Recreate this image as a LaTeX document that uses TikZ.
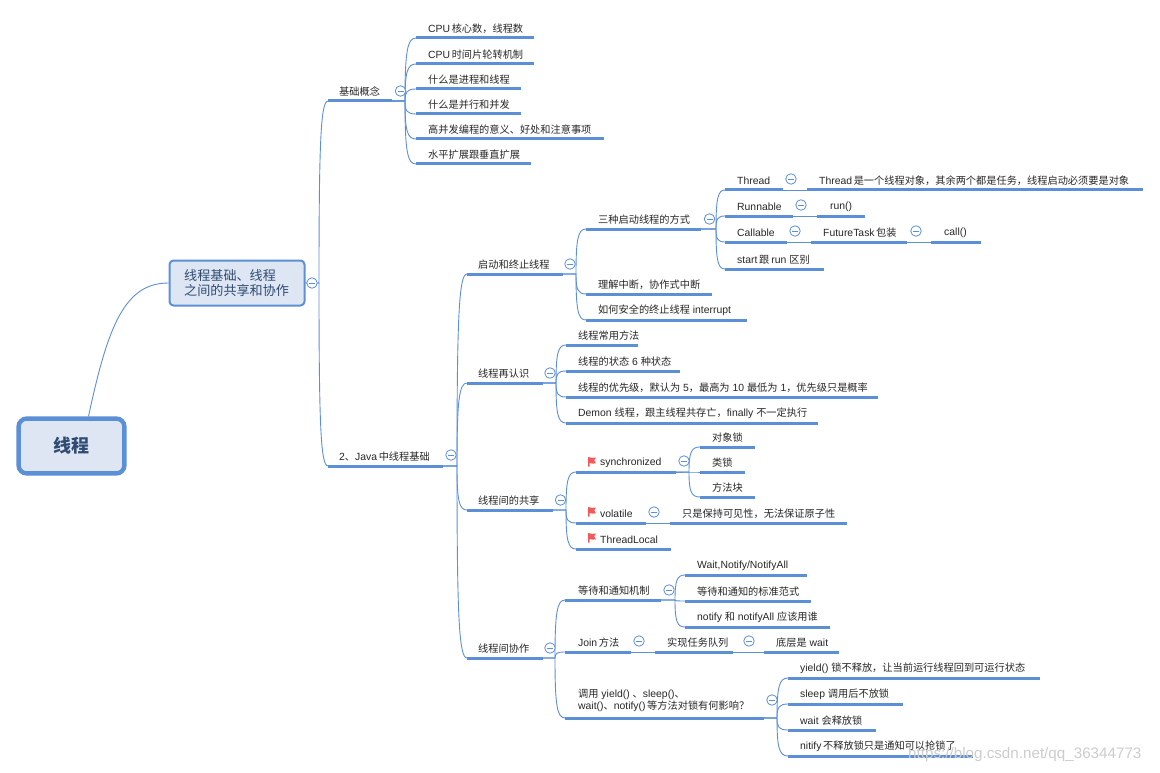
\documentclass[tikz,border=0pt]{standalone}
\usepackage{fontspec}
\setmainfont{Liberation Sans}
\newfontfamily\cjk{Noto Sans CJK SC}
\usetikzlibrary{calc}
\newcommand{\C}[1]{{\cjk\fontsize{10.2}{12}\selectfont #1}}
\newcommand{\gp}{\kern1.6pt\relax}
\newcommand{\fc}{{\cjk\fontsize{10.2}{12}\selectfont ^^^^ff0c}}
\definecolor{mapblue}{HTML}{5B8FD6}
\definecolor{mapfill}{HTML}{DDE6F2}
\definecolor{maptext}{HTML}{2F4B73}
\definecolor{flagred}{HTML}{F25A5A}
\tikzset{
  under/.style={draw=mapblue,line width=3pt,line cap=butt},
  thinl/.style={draw=mapblue,line width=0.9pt},
  lab/.style={anchor=west,inner sep=0pt,text=black!85,font=\fontsize{10.4}{12}\selectfont},
  ctl/.style={circle,draw=mapblue,fill=white,line width=0.8pt,minimum size=10.5pt,inner sep=0pt,
    path picture={\draw[mapblue,line width=0.8pt] ([xshift=-3pt]path picture bounding box.center) -- ([xshift=3pt]path picture bounding box.center);}},
  rootbox/.style={draw=mapblue,fill=mapfill,line width=4.4pt,rounded corners=8pt,inner sep=0pt},
  mainbox/.style={draw=mapblue,fill=mapfill,line width=2pt,rounded corners=4pt,inner sep=0pt},
}
% name, x1, x2, line y, text x, text
\newcommand{\topic}[6]{%
  \coordinate (#1-a) at (#2,#4);
  \coordinate (#1-b) at (#3,#4);
  \draw[under] (#1-a) -- (#1-b);
  \node[lab] (#1) at (#5,#4-9.3) {#6};
}
% parent, hub x, child
\newcommand{\branch}[3]{%
  \path (#1-b) -- (#1-b -| #2,0) coordinate[pos=1] (hubtmp);
  \draw[thinl] (#1-b) -- (hubtmp)
    .. controls ($(hubtmp)!0.78!(hubtmp |- #3-a)$) and ($(#3-a)!0.8!(hubtmp |- #3-a)$) .. (#3-a);
}
\newcommand{\link}[2]{\draw[thinl] (#1-b) -- (#2-a);}
\newcommand{\flagat}[2]{%
  \fill[flagred,shift={(#1,#2)}] (0,0) -- (4,0.8) -- (8,0.6) -- (6.2,3.2) -- (8,6.4) -- (4,6.6) -- (1.5,6) -- (1.5,9.5) -- (0,9.5) -- cycle;
}
\begin{document}
\begin{tikzpicture}[x=1pt,y=-1pt]
\useasboundingbox (0,0) rectangle (1160,773);
% root and main
\node[rootbox,minimum width=105.8pt,minimum height=54.8pt,text=maptext,font=\fontsize{18}{20}\selectfont] (root) at (71.5,446) {{\cjk\bfseries 线程}};
\node[mainbox,minimum width=135pt,minimum height=45pt] (main) at (237,283) {};
\node[anchor=west,inner sep=0pt,text=maptext,align=left,font=\fontsize{13.1}{14.5}\selectfont\cjk] (maintxt) at (184,283) {线程基础、线程\\之间的共享和协作};
\draw[thinl] ([xshift=17pt]root.north) .. controls (108,325) and (125,283) .. (main.west);

\coordinate (main-b) at (main.east);
% level 1
\topic{basic}{328}{392}{101}{339}{\C{基础概念}}
\topic{java}{328}{443}{466}{339}{2\C{、}Java\gp\C{中线程基础}}
\branch{main}{319}{basic}
\branch{main}{319}{java}
\node[ctl] (cmain) at (312,283) {};

% basic concepts
\topic{b1}{416}{534}{38}{428}{CPU\gp\C{核心数}\fc\C{线程数}}
\topic{b2}{416}{534}{64}{428}{CPU\gp\C{时间片轮转机制}}
\topic{b3}{416}{521}{89}{428}{\C{什么是进程和线程}}
\topic{b4}{416}{521}{114}{428}{\C{什么是并行和并发}}
\topic{b5}{416}{604}{139}{428}{\C{高并发编程的意义、好处和注意事项}}
\topic{b6}{416}{531}{164}{428}{\C{水平扩展跟垂直扩展}}
\foreach \c in {b1,b2,b3,b4,b5,b6}{\branch{basic}{405}{\c}}
\node[ctl] (cbasic) at (400.5,91) {};

% java
\topic{s1}{467}{563}{274}{478}{\C{启动和终止线程}}
\topic{s2}{467}{543}{383}{478}{\C{线程再认识}}
\topic{s3}{467}{553}{510}{478}{\C{线程间的共享}}
\topic{s4}{467}{543}{658}{478}{\C{线程间协作}}
\foreach \c in {s1,s2,s3,s4}{\branch{java}{457}{\c}}
\node[ctl] (cjava) at (451,455) {};

% start and stop
\topic{t1}{586}{701}{229}{598}{\C{三种启动线程的方式}}
\topic{t2}{586}{712}{294}{598}{\C{理解中断}\fc\C{协作式中断}}
\topic{t3}{586}{747}{320}{598}{\C{如何安全的终止线程} interrupt}
\foreach \c in {t1,t2,t3}{\branch{s1}{576}{\c}}
\node[ctl] (cs1) at (570,264) {};

\topic{u1}{725}{783}{190}{737}{Thread}
\topic{u1d}{807}{1143}{190}{819}{Thread\gp\C{是一个线程对象}\fc\C{其余两个都是任务}\fc\C{线程启动必须要是对象}}
\topic{u2}{725}{793}{216}{737}{Runnable}
\topic{u2d}{817}{865}{216}{830}{run()}
\topic{u3}{725}{787}{242}{737}{Callable}
\topic{u3d}{811}{907}{242}{823}{FutureTask\gp\C{包装}}
\topic{u3e}{931}{981}{242}{944}{call()}
\topic{u4}{725}{824}{269}{737}{start\gp\C{跟}\kern2.2pt run \C{区别}}
\foreach \c in {u1,u2,u3,u4}{\branch{t1}{716}{\c}}
\link{u1}{u1d}\link{u2}{u2d}\link{u3}{u3d}\link{u3d}{u3e}
\node[ctl] (ct1) at (709.5,219) {};
\node[ctl] (cu1) at (791,179) {};
\node[ctl] (cu2) at (801,205) {};
\node[ctl] (cu3) at (795,231) {};
\node[ctl] (cu3d) at (916,231) {};

% re-know
\topic{v1}{566}{638}{345}{578}{\C{线程常用方法}}
\topic{v2}{566}{680}{371}{578}{\C{线程的状态} 6 \C{种状态}}
\topic{v3}{566}{878}{397}{578}{\C{线程的优先级}\fc\C{默认为} 5\fc\C{最高为} 10 \C{最低为} 1\fc\C{优先级只是概率}}
\topic{v4}{566}{818}{423}{578}{Demon \C{线程}\fc\C{跟主线程共存亡}\fc finally \C{不一定执行}}
\foreach \c in {v1,v2,v3,v4}{\branch{s2}{556}{\c}}
\node[ctl] (cs2) at (550,373) {};

% share
\topic{w1}{576}{676}{472}{600}{synchronized}
\topic{w2}{576}{646}{523}{600}{volatile}
\topic{w2d}{670}{847}{523}{682}{\C{只是保持可见性}\fc\C{无法保证原子性}}
\topic{w3}{576}{671}{549}{600}{ThreadLocal}
\flagat{588}{457}\flagat{588}{507}\flagat{588}{533}
\foreach \c in {w1,w2,w3}{\branch{s3}{566}{\c}}
\link{w2}{w2d}
\node[ctl] (cs3) at (560.5,500) {};
\node[ctl] (cw2) at (654,512) {};
\topic{x1}{700}{755}{447}{712}{\C{对象锁}}
\topic{x2}{700}{745}{472}{712}{\C{类锁}}
\topic{x3}{700}{755}{497}{712}{\C{方法块}}
\foreach \c in {x1,x2,x3}{\branch{w1}{689}{\c}}
\node[ctl] (cw1) at (684,461) {};

% cooperate
\topic{y1}{565}{661}{600}{578}{\C{等待和通知机制}}
\topic{y2}{565}{631}{652}{578}{Join\gp\C{方法}}
\coordinate (y3-a) at (565,718);
\coordinate (y3-b) at (764,718);
\draw[under] (y3-a) -- (y3-b);
\node[lab,align=left,anchor=north west] (y3) at (578,688.5) {\C{调用} yield() \C{、}sleep()\C{、}\\wait()\C{、}notify()\gp\C{等方法对锁有何影响^^^^ff1f}};
\foreach \c in {y1,y2,y3}{\branch{s4}{555}{\c}}
\node[ctl] (cs4) at (550,648) {};

\topic{z1}{685}{807}{575}{697}{Wait,Notify/NotifyAll}
\topic{z2}{685}{811}{601}{697}{\C{等待和通知的标准范式}}
\topic{z3}{685}{830}{627}{697}{notify\kern2.8pt\C{和}\kern2.8pt notifyAll\kern2.8pt\C{应该用谁}}
\foreach \c in {z1,z2,z3}{\branch{y1}{675}{\c}}
\node[ctl] (cy1) at (669,590) {};

\topic{q1}{655}{733}{652}{667}{\C{实现任务队列}}
\topic{q2}{764}{839}{652}{776}{\C{底层是} wait}
\link{y2}{q1}\link{q1}{q2}
\node[ctl] (cy2) at (639,641) {};
\node[ctl] (cq1) at (749,641) {};

\topic{r1}{788}{1040}{678}{800}{yield() \C{锁不释放}\fc\C{让当前运行线程回到可运行状态}}
\topic{r2}{788}{903}{704}{800}{sleep \C{调用后不放锁}}
\topic{r3}{788}{876}{730}{800}{wait \C{会释放锁}}
\topic{r4}{788}{973}{756}{800}{nitify\gp\C{不释放锁只是通知可以抢锁了}}
\foreach \c in {r1,r2,r3,r4}{\branch{y3}{777}{\c}}
\node[ctl] (cy3) at (772,700) {};
% watermark
\node[anchor=west,inner sep=0pt,text=black!20,font=\fontsize{15.2}{16}\selectfont] (wm) at (908,755) {https://blog.csdn.net/qq\_36344773};
\end{tikzpicture}
\end{document}
